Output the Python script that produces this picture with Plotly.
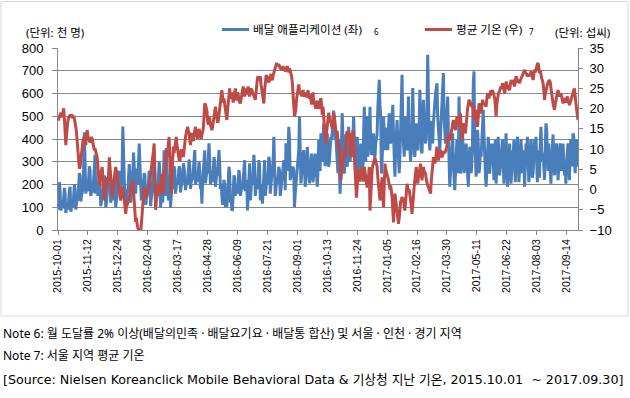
import pandas as pd
import plotly.graph_objects as go

start_date = "2015-10-01"
end_date = "2017-09-30"

tick_labels = ["2015-10-01", "2015-11-12", "2015-12-24", "2016-02-04", "2016-03-17",
               "2016-04-28", "2016-06-09", "2016-07-21", "2016-09-01", "2016-10-13",
               "2016-11-24", "2017-01-05", "2017-02-16", "2017-03-30", "2017-05-11",
               "2017-06-22", "2017-08-03", "2017-09-14"]

# 배달 애플리케이션 이용자 (천 명), daily
delivery_users = [
    90, 140, 210, 170, 85, 110, 120,
    95, 130, 185, 160, 75, 100, 115,
    90, 150, 175, 190, 80, 105, 125,
    100, 160, 200, 180, 90, 120, 140,
    130, 200, 250, 240, 125, 150, 165,
    180, 270, 430, 300, 160, 180, 200,
    170, 230, 280, 260, 150, 165, 180,
    165, 240, 280, 330, 160, 200, 210,
    150, 210, 250, 230, 105, 130, 160,
    140, 200, 240, 220, 100, 120, 150,
    170, 230, 275, 250, 120, 150, 165,
    130, 200, 240, 230, 100, 130, 160,
    170, 220, 260, 250, 150, 200, 260,
    455, 290, 220, 120, 105, 150, 180,
    160, 230, 290, 250, 120, 150, 200,
    230, 340, 280, 200, 160, 250, 270,
    200, 260, 380, 290, 150, 130, 170,
    140, 210, 250, 240, 110, 130, 170,
    160, 230, 260, 230, 105, 140, 170,
    180, 250, 290, 240, 120, 150, 180,
    150, 220, 300, 260, 100, 140, 170,
    120, 280, 350, 300, 150, 360, 250,
    150, 130, 200, 240, 100, 170, 200,
    180, 240, 280, 260, 160, 190, 220,
    200, 250, 280, 270, 165, 190, 210,
    220, 293, 260, 250, 175, 200, 230,
    200, 270, 310, 280, 180, 210, 230,
    220, 280, 300, 351, 200, 220, 250,
    210, 270, 300, 260, 180, 200, 116,
    210, 280, 330, 350, 205, 240, 260,
    250, 330, 381, 300, 200, 220, 260,
    210, 280, 320, 300, 190, 220, 250,
    240, 300, 351, 290, 180, 200, 160,
    110, 180, 220, 200, 100, 130, 101,
    150, 220, 278, 250, 120, 150, 85,
    90, 180, 240, 230, 150, 170, 200,
    160, 230, 263, 240, 150, 170, 190,
    180, 240, 250, 307, 170, 200, 220,
    86, 180, 270, 293, 130, 180, 220,
    200, 260, 330, 280, 150, 190, 220,
    180, 250, 307, 280, 130, 170, 200,
    116, 200, 290, 307, 150, 180, 220,
    200, 270, 322, 300, 160, 200, 230,
    240, 300, 410, 280, 150, 180, 220,
    200, 260, 278, 260, 150, 180, 210,
    230, 280, 307, 290, 175, 381, 280,
    260, 350, 454, 400, 219, 250, 280,
    230, 278, 260, 100, 160, 200, 240,
    250, 300, 351, 498, 300, 205, 240,
    260, 330, 351, 300, 190, 230, 260,
    366, 300, 250, 205, 240, 300, 336,
    290, 210, 240, 290, 336, 300, 210,
    190, 260, 395, 300, 260, 425, 330,
    300, 380, 469, 351, 280, 300, 350,
    425, 330, 278, 300, 380, 410, 395,
    420, 470, 525, 450, 400, 420, 380,
    300, 250, 395, 280, 160, 250, 350,
    513, 400, 300, 248, 350, 420, 300,
    278, 340, 454, 380, 300, 350, 400,
    320, 380, 498, 410, 300, 220, 340,
    410, 350, 280, 219, 300, 380, 330,
    300, 248, 420, 542, 400, 300, 450,
    500, 322, 420, 400, 542, 380, 330,
    350, 400, 425, 330, 322, 380, 400,
    420, 542, 600, 660, 550, 500, 248,
    300, 380, 498, 420, 351, 400, 450,
    420, 351, 450, 513, 400, 380, 420,
    480, 550, 420, 300, 234, 350, 420,
    483, 400, 300, 250, 320, 420, 500,
    682, 450, 350, 322, 400, 498, 420,
    350, 450, 587, 420, 350, 300, 400,
    450, 624, 420, 330, 322, 400, 469,
    380, 350, 420, 450, 616, 420, 350,
    337, 450, 572, 480, 400, 380, 450,
    520, 770, 500, 400, 350, 420, 480,
    400, 380, 469, 500, 560, 600, 638,
    645, 500, 450, 400, 351, 420, 500,
    550, 620, 690, 500, 420, 380, 450,
    500, 587, 425, 300, 190, 250, 330,
    380, 425, 300, 200, 175, 250, 330,
    395, 300, 250, 587, 350, 248, 300,
    380, 425, 330, 250, 280, 350, 380,
    300, 250, 190, 280, 366, 320, 250,
    300, 400, 645, 697, 400, 270, 234,
    300, 440, 380, 250, 280, 350, 322,
    380, 450, 528, 420, 300, 250, 190,
    260, 330, 410, 350, 248, 300, 380,
    330, 380, 300, 219, 300, 395, 204,
    300, 350, 410, 300, 240, 280, 322,
    350, 400, 300, 204, 270, 360, 425,
    300, 190, 250, 330, 380, 300, 204,
    260, 350, 320, 395, 300, 210, 330,
    380, 410, 300, 210, 260, 360, 400,
    330, 250, 280, 350, 190, 300, 380,
    340, 410, 300, 210, 260, 350, 400,
    330, 230, 250, 350, 400, 300, 410,
    300, 210, 350, 300, 230, 380, 454,
    350, 300, 340, 250, 220, 350, 469,
    440, 330, 260, 380, 330, 280, 204,
    300, 380, 420, 330, 240, 300, 350,
    381, 300, 219, 280, 360, 381, 300,
    260, 330, 380, 300, 240, 300, 204,
    300, 350, 381, 300, 219, 350, 400,
    330, 280, 425, 410, 300, 250, 330,
    395, 278, 350,
]

# 서울 지역 평균 기온 (섭씨), daily
avg_temp = [
    17.0, 17.6, 18.0, 18.7, 19.0, 18.2, 18.0, 19.2, 20.1, 17.5,
    14.0, 11.0, 13.5, 16.0, 17.2, 17.8, 18.0, 18.6, 17.9, 18.3,
    18.5, 17.6, 18.2, 17.5, 16.8, 15.5, 14.0, 12.0, 9.0, 6.0,
    5.2, 5.5, 7.5, 9.0, 10.8, 12.0, 12.6, 13.0, 12.2, 11.0,
    13.5, 14.7, 13.2, 12.5, 12.0, 11.6, 12.4, 13.0, 12.5, 11.2,
    10.5, 9.7, 10.2, 9.0, 8.6, 8.0, 5.0, 2.5, 1.0, 2.8,
    4.0, 4.6, 5.6, 3.0, 0.2, -2.7, -1.0, 1.0, 2.6, 3.0,
    2.4, 2.0, 8.0, 6.0, 4.0, 1.0, -1.9, -0.5, 1.5, 3.0,
    4.2, 5.6, 4.5, 3.2, 2.3, 1.5, 0.0, -1.5, -2.7, -1.2,
    0.0, 0.6, -0.5, -2.0, -4.0, -6.0, -4.5, -3.6, -3.0, -2.5,
    -1.9, -0.8, 0.2, 1.0, 1.8, 2.3, 0.0, -3.0, -5.5, -8.0,
    -7.0, -8.6, -9.5, -9.8, -12.0, -14.5, -11.0, -8.0, -6.0, -4.4,
    -1.5, 0.6, -0.5, -1.2, -2.0, -1.5, -1.0, 0.0, 1.0, 2.2,
    3.9, 5.0, 6.5, 8.0, 9.5, 11.4, 4.0, -5.0, -3.0, -1.0,
    0.0, 0.8, 1.4, 0.0, -1.0, 1.8, 3.9, 1.0, -1.0, 2.0,
    4.0, 7.0, 9.7, 8.0, 10.5, 12.0, 13.0, 8.0, 3.0, -1.0,
    4.0, 8.0, 10.6, 9.0, 11.0, 12.0, 13.0, 11.0, 9.5, 8.0,
    7.5, 7.0, 9.0, 10.0, 8.5, 9.5, 8.0, 10.5, 12.2, 13.0,
    14.0, 15.0, 15.5, 14.5, 14.0, 12.0, 11.0, 13.0, 14.0, 12.5,
    12.0, 13.5, 15.0, 15.5, 14.0, 13.0, 12.5, 14.0, 15.0, 14.2,
    13.0, 12.5, 13.5, 14.7, 15.2, 18.0, 21.3, 21.0, 20.0, 19.5,
    17.0, 16.0, 18.0, 17.5, 16.0, 15.0, 14.7, 15.5, 17.0, 18.5,
    19.5, 20.5, 19.0, 18.0, 16.5, 17.0, 19.0, 20.0, 21.0, 23.0,
    24.6, 23.0, 21.5, 22.5, 21.0, 19.0, 17.5, 17.2, 19.5, 22.0,
    24.0, 25.0, 23.0, 22.5, 24.0, 23.0, 21.5, 22.5, 24.5, 25.0,
    23.0, 22.0, 24.0, 23.5, 22.0, 21.8, 21.3, 22.5, 23.5, 24.0,
    25.5, 24.0, 23.0, 24.5, 25.0, 23.5, 24.5, 25.5, 24.0, 23.0,
    24.0, 25.0, 24.6, 24.0, 23.5, 23.0, 22.5, 22.2, 24.0, 27.0,
    27.5, 28.0, 27.0, 27.5, 28.0, 26.0, 24.6, 24.0, 23.0, 21.3,
    24.5, 27.0, 28.0, 28.2, 27.8, 27.0, 26.5, 27.5, 28.0, 28.6,
    27.5, 27.0, 28.2, 29.0, 29.5, 30.0, 30.8, 31.3, 30.5, 30.8,
    31.0, 30.5, 29.8, 30.2, 29.5, 30.0, 30.5, 29.8, 30.0, 29.2,
    29.5, 30.2, 30.5, 29.6, 29.0, 30.0, 29.4, 29.0, 28.0, 26.3,
    23.0, 20.5, 18.0, 19.0, 20.0, 22.5, 24.0, 25.5, 26.0, 24.5,
    23.5, 24.2, 23.0, 24.0, 24.6, 23.5, 23.0, 24.0, 23.5, 22.8,
    23.5, 24.6, 23.0, 22.5, 23.5, 22.0, 21.0, 22.5, 24.0, 22.0,
    21.5, 21.0, 20.0, 21.0, 22.0, 20.5, 20.0, 21.0, 22.0, 22.6,
    21.0, 18.5, 20.5, 17.0, 15.5, 14.0, 11.4, 14.0, 16.0, 17.5,
    19.0, 18.0, 16.5, 17.0, 16.0, 15.0, 17.0, 19.0, 18.0, 16.0,
    15.0, 13.0, 14.5, 12.0, 10.0, 11.0, 6.0, 2.3, 4.0, 6.0,
    8.0, 9.5, 10.0, 8.0, 12.0, 13.5, 14.5, 13.0, 12.5, 14.0,
    11.0, 8.0, 10.5, 13.0, 14.7, 12.0, 9.0, 6.0, 2.0, -2.0,
    1.0, 3.0, 5.0, 4.0, 2.0, 3.5, 5.6, 4.5, 3.0, 2.0,
    5.6, 4.5, 3.0, 2.0, 0.5, 1.4, 3.5, 5.6, -5.2, 0.0,
    3.9, 5.0, 6.0, 7.0, 7.5, 8.0, 7.0, 6.0, 5.6, 3.0,
    0.5, -1.0, -2.7, -1.0, 1.5, 3.0, -1.0, -4.4, 1.0, 6.4,
    5.0, 4.5, 3.9, 3.0, 2.3, 1.5, 0.0, 1.0, 0.0, -1.9,
    -5.0, -8.1, -4.0, -1.0, -2.5, -4.0, -6.0, -7.0, -8.5, -7.0,
    -4.4, -3.0, -2.5, -1.9, -2.2, -2.7, -4.0, -5.2, -3.0, -1.0,
    1.4, 0.5, -0.5, 0.0, -1.0, -2.5, -4.0, -6.0, -3.0, -1.0,
    0.6, 2.5, 4.0, 5.6, 3.0, 1.5, 3.0, 4.5, 5.5, 6.4,
    4.0, 2.3, 4.0, 5.6, 4.5, 4.0, 3.9, 2.5, 1.5, 1.0,
    0.6, 0.0, -0.5, -1.0, 2.0, 4.8, 6.5, 8.0, 7.0, 6.5,
    7.2, 9.0, 10.6, 9.0, 7.2, 8.0, 9.0, 9.7, 9.0, 8.0,
    8.5, 9.0, 9.5, 9.0, 9.7, 10.2, 10.6, 12.5, 13.9, 13.0,
    12.5, 12.2, 14.0, 15.5, 16.5, 17.2, 16.0, 15.5, 14.7, 16.5,
    18.0, 17.0, 15.5, 17.0, 18.0, 18.8, 15.0, 12.2, 14.5, 16.4,
    15.0, 14.5, 13.9, 16.0, 18.8, 20.0, 21.0, 22.2, 21.8, 21.3,
    21.0, 20.5, 21.3, 19.5, 17.2, 18.0, 19.0, 19.7, 18.0, 15.5,
    18.0, 21.3, 20.5, 19.5, 18.8, 20.5, 22.2, 21.5, 21.0, 21.3,
    21.0, 20.5, 22.5, 23.8, 23.0, 22.5, 23.5, 24.0, 23.8, 24.2,
    24.6, 24.0, 23.5, 22.6, 20.5, 18.0, 21.0, 23.0, 23.5, 24.0,
    24.5, 25.0, 25.5, 25.0, 26.3, 25.5, 24.5, 23.8, 25.0, 26.7,
    26.0, 25.5, 25.0, 24.8, 24.6, 26.0, 27.1, 26.5, 27.1, 26.5,
    26.0, 25.5, 26.8, 28.0, 27.5, 27.0, 26.5, 26.8, 26.3, 27.0,
    27.5, 27.8, 28.0, 28.5, 29.0, 29.6, 29.0, 28.8, 28.5, 28.0,
    28.2, 28.5, 28.0, 28.6, 29.2, 28.5, 28.0, 27.1, 28.5, 29.6,
    29.0, 29.8, 30.5, 31.0, 31.3, 30.0, 28.8, 29.5, 28.0, 27.5,
    27.0, 26.3, 24.5, 22.2, 23.5, 24.6, 25.5, 26.0, 26.5, 26.8,
    27.1, 26.5, 25.5, 24.0, 22.5, 21.3, 20.5, 19.7, 21.0, 22.5,
    23.5, 24.0, 24.6, 23.5, 23.0, 23.5, 23.8, 23.0, 22.0, 21.3,
    22.0, 22.6, 22.0, 21.5, 22.5, 23.0, 22.2, 21.5, 20.9, 21.5,
    22.0, 22.5, 23.0, 23.8, 24.5, 25.0, 23.0, 21.0, 19.7, 18.5,
    17.2,
]

dates = pd.date_range(start_date, end_date, freq="D")
n = min(len(dates), len(delivery_users), len(avg_temp))

BLUE = "#4A7EBB"
RED = "#BE4B48"
GRID = "#878787"
KFONT = "Noto Sans, Noto Sans CJK KR"
SFONT = "DejaVu Sans, Noto Sans CJK KR"
NFONT = "Liberation Sans, Arial, sans-serif"

# plot-area pixel box used to place annotations in paper coordinates
L, R, T, B = 58, 578, 48, 230
def px(x):
    return (x - L) / (R - L)
def py(y):
    return (B - y) / (B - T)

fig = go.Figure()
fig.add_trace(go.Scatter(x=dates[:n], y=delivery_users[:n], mode="lines",
                         line=dict(color=BLUE, width=3), name="배달 애플리케이션 (좌)",
                         yaxis="y"))
fig.add_trace(go.Scatter(x=dates[:n], y=avg_temp[:n], mode="lines",
                         line=dict(color=RED, width=3), name="평균 기온 (우)",
                         yaxis="y2"))

fig.update_layout(
    width=630, height=398,
    margin=dict(l=L, r=630 - R, t=T, b=398 - B, pad=0),
    paper_bgcolor="white", plot_bgcolor="white",
    showlegend=False,
    xaxis=dict(type="date", range=[dates[0], dates[n - 1]],
               tickmode="array", tickvals=tick_labels, ticktext=tick_labels,
               tickangle=-90, ticks="outside", ticklen=4, tickcolor=GRID,
               showline=True, linecolor=GRID, linewidth=1, showgrid=False,
               tickfont=dict(family=NFONT, size=10.5, color="#000000")),
    yaxis=dict(range=[0, 800], tick0=0, dtick=100, showgrid=True, gridcolor=GRID,
               gridwidth=1, showline=True, linecolor=GRID, zeroline=False,
               ticks="outside", ticklen=5, tickcolor=GRID, ticklabelstandoff=6,
               tickfont=dict(family=NFONT, size=13, color="#000000")),
    yaxis2=dict(range=[-10, 35], tick0=-10, dtick=5, overlaying="y", side="right",
                showgrid=False, showline=True, linecolor=GRID, zeroline=False,
                ticks="outside", ticklen=4, tickcolor=GRID, ticklabelstandoff=4,
                tickfont=dict(family=NFONT, size=13, color="#000000")),
)

shapes = [
    dict(type="rect", xref="paper", yref="paper", x0=px(1), x1=px(628), y0=py(316), y1=py(1.5),
         line=dict(color="#D9D9D9", width=1), fillcolor="rgba(0,0,0,0)", layer="below"),
    dict(type="line", xref="paper", yref="paper", x0=px(222), x1=px(249), y0=py(29.5), y1=py(29.5),
         line=dict(color=BLUE, width=3)),
    dict(type="line", xref="paper", yref="paper", x0=px(425), x1=px(452), y0=py(29.5), y1=py(29.5),
         line=dict(color=RED, width=3)),
]
fig.update_layout(shapes=shapes)

def ann(text, x, y, size, anchor="left", color="#000000", family=KFONT):
    return dict(text=text, x=px(x), y=py(y), xref="paper", yref="paper",
                xanchor=anchor, yanchor="middle", showarrow=False,
                font=dict(family=family, size=size, color=color))

annotations = [
    ann("(단위: 천 명)", 24, 32, 11.5),
    ann("배달 애플리케이션 (좌)", 251, 30, 11.6),
    ann("6", 372, 31, 8),
    ann("평균 기온 (우)", 454, 30, 11.6),
    ann("7", 527, 31, 8),
    ann("(단위: 섭씨)", 612, 32, 11.5, anchor="right"),
    ann("Note 6: 월 도달률 2% 이상(배달의민족 · 배달요기요 · 배달통 합산) 및 서울 · 인천 · 경기 지역", 1, 333, 12),
    ann("Note 7: 서울 지역 평균 기온", 1, 355, 12),
    ann("[Source: Nielsen Koreanclick Mobile Behavioral Data &amp; 기상청 지난 기온, 2015.10.01  ~ 2017.09.30]",
        1, 379, 12.7, family=SFONT),
]
fig.update_layout(annotations=annotations)

fig.write_html("out.html", config={"displayModeBar": False},
               post_script="document.body.style.margin='0px';document.body.style.overflow='hidden';")
